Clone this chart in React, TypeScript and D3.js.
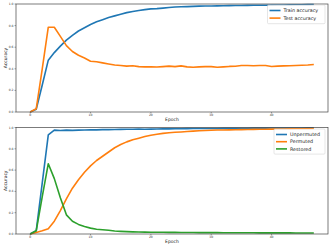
import React from 'react';
import * as d3 from 'd3';

// epochs 0..47
const trainAcc = [
  0.0, 0.025, 0.25, 0.48, 0.55, 0.61, 0.665, 0.71, 0.75, 0.78, 0.81, 0.835,
  0.855, 0.875, 0.89, 0.905, 0.92, 0.93, 0.94, 0.948, 0.955, 0.957, 0.962,
  0.968, 0.972, 0.975, 0.976, 0.978, 0.98, 0.981, 0.982, 0.983, 0.984, 0.985,
  0.986, 0.986, 0.987, 0.988, 0.989, 0.989, 0.99, 0.991, 0.991, 0.992, 0.993,
  0.993, 0.994, 0.995,
];
const testAcc = [
  0.0, 0.03, 0.4, 0.785, 0.785, 0.7, 0.615, 0.56, 0.525, 0.5, 0.47, 0.465,
  0.455, 0.445, 0.435, 0.43, 0.425, 0.428, 0.42, 0.418, 0.418, 0.416, 0.42,
  0.425, 0.42, 0.427, 0.418, 0.415, 0.418, 0.42, 0.42, 0.415, 0.418, 0.422,
  0.424, 0.43, 0.43, 0.428, 0.43, 0.43, 0.422, 0.425, 0.427, 0.428, 0.43,
  0.433, 0.435, 0.44,
];
const unpermuted = [
  0.0, 0.03, 0.48, 0.93, 0.975, 0.972, 0.975, 0.973, 0.975, 0.976, 0.978,
  0.978, 0.98, 0.98, 0.981, 0.982, 0.983, 0.984, 0.985, 0.984, 0.985, 0.986,
  0.988, 0.987, 0.988, 0.988, 0.989, 0.99, 0.99, 0.99, 0.991, 0.991, 0.992,
  0.992, 0.993, 0.993, 0.993, 0.994, 0.994, 0.994, 0.995, 0.995, 0.995, 0.996,
  0.996, 0.996, 0.997, 0.997,
];
const permuted = [
  0.0, 0.015, 0.03, 0.05, 0.12, 0.22, 0.33, 0.43, 0.51, 0.58, 0.64, 0.69,
  0.73, 0.77, 0.81, 0.84, 0.865, 0.885, 0.9, 0.915, 0.928, 0.937, 0.945,
  0.95, 0.955, 0.958, 0.962, 0.966, 0.969, 0.972, 0.974, 0.976, 0.977, 0.978,
  0.979, 0.98, 0.981, 0.982, 0.983, 0.984, 0.985, 0.986, 0.986, 0.987, 0.988,
  0.988, 0.989, 0.99,
];
const restored = [
  0.0, 0.03, 0.35, 0.66, 0.52, 0.34, 0.18, 0.12, 0.09, 0.07, 0.055, 0.045,
  0.04, 0.035, 0.028, 0.025, 0.022, 0.02, 0.019, 0.018, 0.017, 0.016, 0.016,
  0.015, 0.015, 0.014, 0.014, 0.014, 0.013, 0.013, 0.013, 0.013, 0.012, 0.012,
  0.012, 0.012, 0.012, 0.012, 0.011, 0.011, 0.011, 0.011, 0.011, 0.011, 0.01,
  0.01, 0.01, 0.01,
];

const xTicks = [0, 10, 20, 30, 40];
const yTicks = [0, 0.2, 0.4, 0.6, 0.8, 1.0];

const BLUE = '#1f77b4';
const ORANGE = '#ff7f0e';
const GREEN = '#2ca02c';
const FONT = 'DejaVu Sans, sans-serif';

interface Series {
  name: string;
  values: number[];
  color: string;
}

interface PanelProps {
  top: number;
  bottom: number;
  series: Series[];
  legend: {x: number; y: number; w: number; row: number};
}

const LEFT = 16;
const RIGHT = 328;

const Panel: React.FC<PanelProps> = ({top, bottom, series, legend}) => {
  const n = series[0].values.length - 1;
  const pad = n * 0.05;
  const x = d3.scaleLinear().domain([-pad, n + pad]).range([LEFT, RIGHT]);
  const y = d3.scaleLinear().domain([0, 1]).range([bottom, top]);
  const line = d3
    .line<number>()
    .x((_, i) => x(i))
    .y((d) => y(d));

  const legendH = series.length * legend.row + 3.5;

  return (
    <g>
      {series.map((s) => (
        <path
          key={s.name}
          d={line(s.values) || ''}
          fill="none"
          stroke={s.color}
          strokeWidth={1.6}
          strokeLinejoin="round"
        />
      ))}
      <rect
        x={LEFT}
        y={top}
        width={RIGHT - LEFT}
        height={bottom - top}
        fill="none"
        stroke="#444"
        strokeWidth={0.7}
      />
      {xTicks.map((t) => (
        <g key={t}>
          <line x1={x(t)} x2={x(t)} y1={bottom} y2={bottom + 1.5} stroke="#444" strokeWidth={0.5} />
          <text x={x(t)} y={bottom + 3.8} fontSize={3} textAnchor="middle" fill="#333" fontFamily={FONT}>
            {t}
          </text>
        </g>
      ))}
      {yTicks.map((t) => (
        <g key={t}>
          <line x1={LEFT - 1.5} x2={LEFT} y1={y(t)} y2={y(t)} stroke="#444" strokeWidth={0.5} />
          <text x={LEFT - 2.5} y={y(t) + 1} fontSize={3} textAnchor="end" fill="#333" fontFamily={FONT}>
            {t.toFixed(1)}
          </text>
        </g>
      ))}
      <text
        x={(LEFT + RIGHT) / 2}
        y={bottom + 9.2}
        fontSize={4.5}
        textAnchor="middle"
        fill="#222"
        fontFamily={FONT}
      >
        Epoch
      </text>
      <text
        transform={`translate(6.5,${(top + bottom) / 2}) rotate(-90)`}
        fontSize={4.5}
        textAnchor="middle"
        fill="#222"
        fontFamily={FONT}
      >
        Accuracy
      </text>
      <rect
        x={legend.x}
        y={legend.y}
        width={legend.w}
        height={legendH}
        rx={1}
        fill="white"
        fillOpacity={0.8}
        stroke="#ccc"
        strokeWidth={0.5}
      />
      {series.map((s, i) => {
        const cy = legend.y + 5.5 + i * legend.row;
        return (
          <g key={s.name}>
            <line
              x1={legend.x + 2}
              x2={legend.x + 13}
              y1={cy}
              y2={cy}
              stroke={s.color}
              strokeWidth={1.6}
            />
            <text x={legend.x + 16} y={cy + 1.7} fontSize={4.8} fill="#222" fontFamily={FONT}>
              {s.name}
            </text>
          </g>
        );
      })}
    </g>
  );
};

export default function App() {
  return (
    <svg
      width={332}
      height={249}
      style={{position: 'absolute', left: 0, top: 0, background: 'white'}}
    >
      <Panel
        top={4}
        bottom={112}
        series={[
          {name: 'Train accuracy', values: trainAcc, color: BLUE},
          {name: 'Test accuracy', values: testAcc, color: ORANGE},
        ]}
        legend={{x: 267.5, y: 5, w: 57.5, row: 7.6}}
      />
      <Panel
        top={127.5}
        bottom={234}
        series={[
          {name: 'Unpermuted', values: unpermuted, color: BLUE},
          {name: 'Permuted', values: permuted, color: ORANGE},
          {name: 'Restored', values: restored, color: GREEN},
        ]}
        legend={{x: 274, y: 129, w: 51, row: 7.2}}
      />
    </svg>
  );
}
